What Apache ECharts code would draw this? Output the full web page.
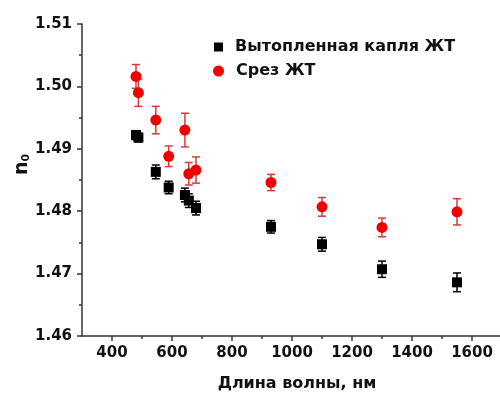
<!DOCTYPE html>
<html>
<head>
<meta charset="utf-8">
<script src="https://cdn.jsdelivr.net/npm/echarts@6/dist/echarts.min.js"></script>
<style>
  html, body { margin: 0; padding: 0; background: #fff; }
  #chart { width: 500px; height: 394px; }
</style>
</head>
<body>
<div id="chart"></div>
<script>
// Refractive index n0 versus wavelength for two sample types
const seriesNames = ['Вытопленная капля ЖТ', 'Срез ЖТ'];

// melted drop
const meltWavelength = [480, 488, 546, 589, 643, 656, 680, 930, 1100, 1300, 1550];
const meltIndex      = [1.4922, 1.4918, 1.4863, 1.4838, 1.4826, 1.4817, 1.4805, 1.4775, 1.4747, 1.4707, 1.4686];
const meltError      = [0.0007, 0.0007, 0.0011, 0.0010, 0.0011, 0.0011, 0.0011, 0.0010, 0.0011, 0.0013, 0.0015];

// section
const cutWavelength = [480, 488, 546, 589, 643, 656, 680, 930, 1100, 1300, 1550];
const cutIndex      = [1.5016, 1.4990, 1.4946, 1.4888, 1.4930, 1.4860, 1.4866, 1.4846, 1.4807, 1.4774, 1.4799];
const cutError      = [0.0019, 0.0022, 0.0022, 0.00165, 0.0027, 0.0018, 0.0021, 0.0013, 0.0015, 0.0015, 0.0021];

const xMajorTicks = [400, 600, 800, 1000, 1200, 1400, 1600];
const xMinorTicks = [500, 700, 900, 1100, 1300, 1500];

const FONT = 'DejaVu Sans';
const AXIS_COLOR = '#333';

function points(xs, ys) { return xs.map((x, i) => [x, ys[i]]); }
function errPoints(xs, ys, es) { return xs.map((x, i) => [x, ys[i], es[i]]); }

function errorBars(color) {
  return function (params, api) {
    const x = api.value(0), y = api.value(1), e = api.value(2);
    const top = api.coord([x, y + e]);
    const bot = api.coord([x, y - e]);
    const half = 4;
    const style = { stroke: color, lineWidth: 1.5 };
    return {
      type: 'group',
      children: [
        { type: 'line', shape: { x1: top[0], y1: top[1], x2: bot[0], y2: bot[1] }, style },
        { type: 'line', shape: { x1: top[0] - half, y1: top[1], x2: top[0] + half, y2: top[1] }, style },
        { type: 'line', shape: { x1: bot[0] - half, y1: bot[1], x2: bot[0] + half, y2: bot[1] }, style }
      ]
    };
  };
}

const chart = echarts.init(document.getElementById('chart'), null, { renderer: 'canvas' });

chart.setOption({
  animation: false,
  backgroundColor: '#fff',
  grid: { left: 82, right: -2, top: 24, bottom: 58, outerBoundsMode: 'none', containLabel: false },
  legend: [
    {
      data: [{ name: seriesNames[0], icon: 'rect' }],
      left: 209, top: 34, itemWidth: 9, itemHeight: 9,
      textStyle: { fontFamily: FONT, fontWeight: 'bold', fontSize: 16, color: '#111', padding: [0, 0, 0, 7] }
    },
    {
      data: [{ name: seriesNames[1], icon: 'circle' }],
      left: 208, top: 58, itemWidth: 11, itemHeight: 11,
      textStyle: { fontFamily: FONT, fontWeight: 'bold', fontSize: 16, color: '#111', padding: [0, 0, 0, 7] }
    }
  ],
  xAxis: [
    {
      type: 'value', min: 300, max: 1700,
      name: 'Длина волны, нм', nameLocation: 'middle', nameGap: 40,
      nameTextStyle: { fontFamily: FONT, fontWeight: 'bold', fontSize: 16, color: '#111', padding: [0, 0, 0, 10] },
      axisLine: { show: true, onZero: false, lineStyle: { color: AXIS_COLOR, width: 1.5 } },
      axisTick: { show: true, customValues: xMajorTicks, length: 5, lineStyle: { color: AXIS_COLOR, width: 1.5 } },
      axisLabel: {
        customValues: xMajorTicks, margin: 10, fontFamily: FONT, fontWeight: 'bold', fontSize: 15, color: '#111',
        formatter: v => String(v)
      },
      splitLine: { show: false }
    },
    {
      type: 'value', min: 300, max: 1700, position: 'bottom',
      axisLine: { show: false },
      axisTick: { show: true, customValues: xMinorTicks, length: 3, lineStyle: { color: AXIS_COLOR, width: 1.5 } },
      axisLabel: { show: false },
      splitLine: { show: false }
    }
  ],
  yAxis: {
    type: 'value', min: 1.46, max: 1.51, interval: 0.01,
    axisLine: { show: true, onZero: false, lineStyle: { color: AXIS_COLOR, width: 1.5 } },
    axisTick: { show: true, length: 5, lineStyle: { color: AXIS_COLOR, width: 1.5 } },
    minorTick: { show: true, splitNumber: 2, length: 3, lineStyle: { color: AXIS_COLOR, width: 1.5 } },
    axisLabel: {
      margin: 10, fontFamily: FONT, fontWeight: 'bold', fontSize: 15, color: '#111',
      formatter: v => v.toFixed(2)
    },
    splitLine: { show: false }
  },
  graphic: [
    {
      type: 'text', x: 13, y: 175, rotation: Math.PI / 2,
      style: {
        text: 'n{sub|0}',
        fill: '#111',
        font: 'bold 19px "DejaVu Sans"',
        rich: { sub: { fontFamily: FONT, fontWeight: 'bold', fontSize: 11, padding: [8, 0, 0, 0], fill: '#111' } }
      }
    }
  ],
  series: [
    {
      type: 'custom', name: seriesNames[0] + ' err', xAxisIndex: 0,
      renderItem: errorBars('#000'), data: errPoints(meltWavelength, meltIndex, meltError),
      z: 1, silent: true, legendHoverLink: false
    },
    {
      type: 'custom', name: seriesNames[1] + ' err', xAxisIndex: 0,
      renderItem: errorBars('#d63a3a'), data: errPoints(cutWavelength, cutIndex, cutError),
      z: 1, silent: true, legendHoverLink: false
    },
    {
      type: 'scatter', name: seriesNames[0], xAxisIndex: 0, symbol: 'rect', symbolSize: 10,
      itemStyle: { color: '#000', opacity: 1 }, data: points(meltWavelength, meltIndex), z: 3
    },
    {
      type: 'scatter', name: seriesNames[1], xAxisIndex: 0, symbol: 'circle', symbolSize: 11,
      itemStyle: { color: '#f20000', opacity: 1 }, data: points(cutWavelength, cutIndex), z: 3
    }
  ]
});
</script>
</body>
</html>
